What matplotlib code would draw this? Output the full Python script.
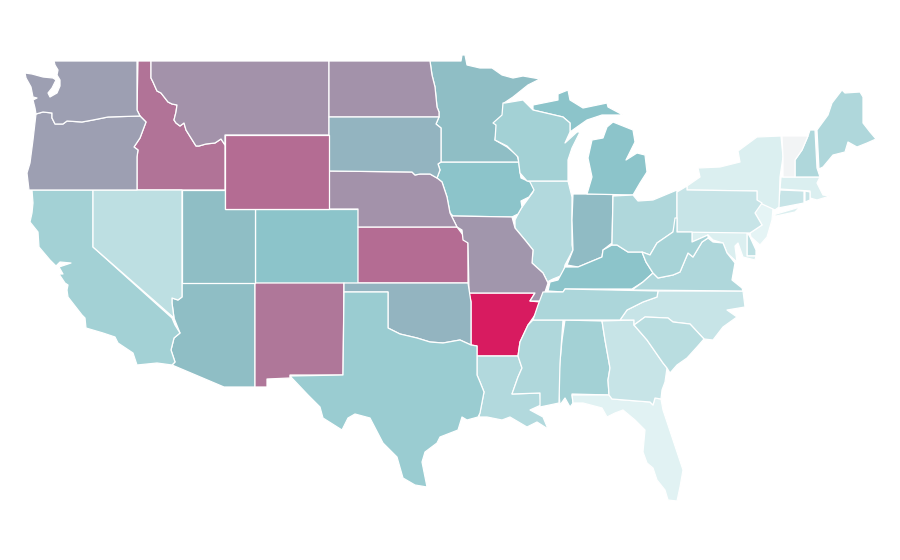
import matplotlib
matplotlib.use("Agg")
import matplotlib.pyplot as plt
from matplotlib.colors import LinearSegmentedColormap, Normalize
from matplotlib.patches import Polygon

# Estimated value of each state, read from its shade
states = ["AL","AZ","AR","CA","CO","CT","DE","FL","GA","ID","IL","IN","IA","KS","KY","LA","ME","MD","MA","MI","MN","MS","MO","MT","NE","NV","NH","NJ","NM","NY","NC","ND","OH","OK","OR","PA","RI","SC","SD","TN","TX","UT","VT","VA","WA","WV","WI","WY"]
values = [39,52,100,39,50,21,26,8,21,74,31,53,50,76,50,31,33,11,11,50,52,33,64,65,65,26,33,6,73,11,21,65,33,55,61,21,21,28,55,34,43,52,0,33,61,37,39,76]

# State outlines (map geometry), x/y in map units
AL = [(565,320),(602,321),(605,340),(610,368),(608,380),(609,395),(572,394),(573,403),(570,407),(565,398),(560,405),(558,383),(562,340)]
AZ = [(182,283),(255,283),(255,387),(224,387),(172,365),(175,362),(171,350),(174,338),(180,333),(174,318),(172,303),(172,298),(178,300),(182,297)]
AR = [(469,293),(535,293),(530,301),(540,302),(535,315),(528,325),(520,342),(518,356),(477,356),(477,346),(471,345),(471,302)]
CA = [(32,190),(93,190),(93,247),(172,318),(175,325),(180,333),(174,338),(171,350),(175,362),(172,365),(157,363),(137,365),(133,353),(118,343),(115,337),(103,333),(86,328),(85,318),(82,315),(68,297),(67,290),(68,285),(65,283),(59,274),(63,274),(59,267),(71,263),(60,262),(56,266),(50,260),(39,247),(38,232),(30,222),(32,213),(33,203)]
CO = [(255,209),(358,209),(358,283),(255,283)]
CT = [(780,190),(804,191),(804,203),(778,208)]
DE = [(747,232),(750,237),(756,250),(756,256),(747,256)]
FL = [(572,395),(609,395),(612,399),(637,401),(650,402),(653,405),(655,398),(661,399),(663,410),(672,437),(683,470),(680,487),(677,501),(668,500),(665,490),(657,480),(653,468),(647,463),(643,452),(645,430),(635,420),(623,410),(615,413),(607,417),(602,408),(583,403),(573,403)]
GA = [(602,321),(634,320),(634,325),(647,340),(663,363),(667,368),(665,382),(662,390),(661,399),(655,398),(653,405),(650,402),(637,401),(612,399),(609,395),(608,380),(610,368),(605,340)]
ID = [(138,61),(151,61),(151,78),(153,82),(157,91),(161,93),(168,102),(172,104),(177,105),(176,112),(174,120),(176,123),(180,126),(184,123),(186,130),(191,138),(196,146),(199,146),(206,144),(215,143),(221,139),(225,145),(225,190),(137,190),(137,157),(138,150),(134,147),(140,138),(146,122),(140,116),(137,110)]
IL = [(527,181),(568,181),(572,197),(572,245),(573,250),(565,265),(563,275),(553,279),(549,281),(548,283),(543,273),(532,263),(533,250),(525,240),(515,228),(515,220),(520,210),(533,192)]
IN = [(573,194),(613,194),(612,243),(603,250),(602,257),(590,262),(578,267),(567,265),(573,250),(572,220)]
IA = [(441,162),(519,162),(520,172),(521,178),(530,182),(534,190),(529,197),(521,201),(522,207),(518,214),(512,217),(452,216),(450,213),(447,197),(442,182),(437,178),(440,170),(438,164)]
KS = [(358,227),(457,227),(463,235),(468,243),(468,283),(358,283)]
KY = [(548,291),(550,282),(558,280),(565,267),(578,267),(590,262),(602,257),(603,250),(612,245),(617,245),(628,252),(642,252),(646,262),(653,273),(643,282),(632,289),(565,289),(563,292)]
LA = [(477,356),(518,356),(522,368),(518,377),(512,394),(540,393),(541,405),(530,410),(543,417),(548,429),(537,422),(527,427),(510,417),(502,420),(487,417),(479,417),(484,392),(480,382),(477,375)]
ME = [(817,130),(828,115),(832,103),(842,90),(845,93),(860,92),(863,97),(863,123),(870,132),(876,139),(867,143),(857,147),(848,142),(845,152),(833,155),(823,167),(819,169)]
MD = [(692,232),(747,232),(747,256),(756,256),(755,260),(743,257),(738,243),(735,246),(737,262),(727,253),(723,243),(713,240),(708,235),(692,242)]
MA = [(781,177),(820,177),(817,183),(823,195),(830,196),(817,200),(810,198),(810,191),(780,189)]
MI_UPPER = [(533,105),(558,100),(558,94),(568,90),(570,100),(583,108),(607,103),(608,107),(623,115),(612,115),(602,115),(587,120),(577,127),(570,132),(570,123),(563,117),(533,110)]
MI_LOWER = [(613,122),(633,130),(635,142),(626,160),(637,153),(645,155),(647,172),(640,183),(633,195),(587,194),(592,177),(588,158),(592,140),(603,138),(607,127)]
MN = [(430,61),(461,61),(462,55),(465,55),(467,65),(480,68),(492,68),(502,75),(513,78),(523,76),(540,79),(528,85),(513,97),(504,103),(503,115),(495,122),(497,127),(495,140),(507,147),(517,155),(519,162),(441,162),(441,128),(436,124),(439,117),(439,112),(437,107),(435,87),(432,75)]
MS = [(533,320),(563,320),(560,363),(559,403),(540,407),(540,393),(512,394),(518,377),(522,368),(518,356),(520,342),(528,325)]
MO = [(453,216),(512,217),(515,228),(525,240),(533,250),(532,263),(543,273),(548,283),(545,292),(541,301),(530,301),(535,293),(469,293),(468,243),(463,240),(462,230),(457,227),(450,213)]
MT = [(151,61),(329,61),(329,135),(225,135),(225,145),(221,139),(215,143),(206,144),(199,146),(196,146),(191,138),(186,130),(184,123),(180,126),(176,123),(174,120),(176,112),(177,105),(172,104),(168,102),(161,93),(157,91),(153,82),(151,78)]
NE = [(329,171),(412,172),(415,175),(420,174),(430,174),(437,178),(442,182),(447,197),(450,213),(457,227),(358,227),(358,209),(329,209)]
NV = [(93,190),(182,190),(182,297),(178,300),(172,298),(172,303),(174,318),(93,247)]
NH = [(810,130),(815,130),(817,168),(820,177),(795,177),(795,160),(802,150),(808,136)]
NJ = [(760,203),(773,208),(772,220),(767,237),(760,245),(751,237),(750,233),(762,225),(755,213)]
NM = [(255,283),(344,283),(343,375),(290,375),(290,378),(267,379),(267,387),(255,387)]
NY = [(687,190),(687,186),(700,177),(698,168),(720,167),(740,162),(738,151),(757,137),(781,136),(783,157),(780,177),(779,207),(775,210),(760,203),(757,200),(757,191)]
NY_ISLAND = [(773,215),(800,207),(795,212),(776,216)]
NC = [(658,291),(743,291),(745,307),(727,310),(737,317),(723,327),(713,340),(704,339),(690,324),(673,322),(668,318),(645,317),(634,325),(634,320),(620,320),(627,310),(643,302),(657,297)]
ND = [(329,61),(430,61),(432,75),(435,87),(437,107),(439,112),(439,117),(329,117)]
OH = [(613,196),(633,195),(638,201),(653,200),(677,190),(677,220),(673,232),(657,243),(650,255),(642,252),(628,252),(617,245),(612,245)]
OK = [(344,283),(468,283),(471,302),(471,345),(460,340),(443,343),(430,342),(417,338),(400,334),(388,328),(388,292),(344,292)]
OR = [(36,114),(43,112),(52,113),(52,118),(55,124),(63,124),(67,121),(82,122),(93,120),(108,117),(140,116),(146,122),(140,138),(134,147),(138,150),(137,157),(137,190),(29,190),(27,173),(30,163),(33,140)]
PA = [(687,190),(757,191),(757,200),(762,203),(755,213),(762,225),(750,233),(677,232),(677,192),(687,186)]
RI = [(805,191),(810,192),(810,200),(805,202)]
SC = [(634,325),(645,317),(668,318),(673,322),(690,324),(704,339),(697,347),(687,358),(677,365),(670,373),(667,368),(663,363),(647,340)]
SD = [(329,117),(439,117),(436,124),(441,128),(441,162),(438,164),(440,170),(437,178),(430,174),(420,174),(415,175),(412,172),(329,171)]
TN = [(543,292),(563,292),(565,289),(658,291),(657,297),(643,302),(627,310),(620,320),(533,320),(538,305)]
TX = [(344,292),(388,292),(388,328),(400,334),(417,338),(430,342),(443,343),(460,340),(471,345),(477,346),(477,375),(480,382),(484,392),(480,413),(478,417),(467,420),(462,417),(458,430),(440,437),(437,443),(425,452),(422,462),(427,487),(415,485),(403,478),(397,457),(383,443),(370,418),(355,414),(348,418),(342,430),(323,418),(320,407),(308,395),(290,376),(343,375)]
UT = [(182,190),(225,190),(225,209),(255,209),(255,283),(182,283)]
VT = [(782,136),(808,136),(802,150),(795,160),(795,177),(783,177),(783,157)]
VA = [(632,290),(643,282),(653,273),(658,278),(673,275),(680,272),(688,253),(693,257),(702,242),(708,238),(713,242),(723,243),(727,253),(735,263),(732,280),(742,288),(743,291)]
WA = [(54,61),(137,61),(137,110),(140,116),(108,117),(93,120),(82,122),(67,121),(63,124),(55,124),(52,118),(52,113),(43,112),(36,114),(35,108),(33,100),(37,98),(33,97),(31,87),(26,78),(25,73),(32,74),(43,77),(53,78),(56,80),(52,88),(48,93),(50,97),(57,93),(60,86),(60,80),(57,75),(58,70),(55,65)]
WV = [(646,262),(642,252),(650,255),(657,243),(673,232),(675,218),(677,218),(677,232),(692,232),(692,242),(708,235),(708,238),(702,242),(693,257),(688,253),(680,272),(673,275),(658,278),(653,273)]
WI = [(505,103),(523,100),(533,110),(563,117),(570,123),(570,132),(565,143),(577,132),(580,132),(572,148),(568,160),(568,181),(527,181),(520,173),(518,157),(507,146),(495,140),(496,125),(493,123),(502,115),(503,103)]
WY = [(225,135),(329,135),(329,209),(225,209)]

outlines = {"AL":[AL],"AZ":[AZ],"AR":[AR],"CA":[CA],"CO":[CO],"CT":[CT],"DE":[DE],"FL":[FL],"GA":[GA],"ID":[ID],"IL":[IL],"IN":[IN],"IA":[IA],"KS":[KS],"KY":[KY],"LA":[LA],"ME":[ME],"MD":[MD],"MA":[MA],"MI":[MI_UPPER,MI_LOWER],"MN":[MN],"MS":[MS],"MO":[MO],"MT":[MT],"NE":[NE],"NV":[NV],"NH":[NH],"NJ":[NJ],"NM":[NM],"NY":[NY,NY_ISLAND],"NC":[NC],"ND":[ND],"OH":[OH],"OK":[OK],"OR":[OR],"PA":[PA],"RI":[RI],"SC":[SC],"SD":[SD],"TN":[TN],"TX":[TX],"UT":[UT],"VT":[VT],"VA":[VA],"WA":[WA],"WV":[WV],"WI":[WI],"WY":[WY]}

cmap = LinearSegmentedColormap.from_list("shade", [(0,"#f2f4f5"),(0.06,"#e5f4f5"),(0.5,"#8cc5ca"),(1,"#d81b60")])
norm = Normalize(0, 100)

fig = plt.figure(figsize=(9, 5.6), dpi=100)
ax = fig.add_axes([0, 0, 1, 1])
ax.set_xlim(0, 900)
ax.set_ylim(560, 0)
ax.axis("off")
for st, v in zip(states, values):
    for ring in outlines[st]:
        ax.add_patch(Polygon(ring, closed=True, facecolor=cmap(norm(v)), edgecolor="white", linewidth=0.9, joinstyle="round"))
fig.savefig("out.png", dpi=100)
